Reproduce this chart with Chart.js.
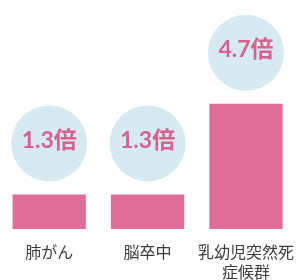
<!DOCTYPE html>
<html>
<head>
<meta charset="utf-8">
<script src="https://cdn.jsdelivr.net/npm/chart.js@4/dist/chart.umd.min.js"></script>
<style>
  html, body { margin: 0; padding: 0; background: #ffffff; }
  #wrap { width: 307px; height: 280px; position: relative; }
</style>
</head>
<body>
<div id="wrap"><canvas id="grafico"></canvas></div>
<script>
// Datos del gráfico
const categorias = [['肺がん'], ['脳卒中'], ['乳幼児突然死', '症候群']];
const valores = [1.3, 1.3, 4.7];
const etiquetas = ['1.3倍', '1.3倍', '4.7倍'];

const COLOR_BARRA = '#de6e98';
const COLOR_CIRCULO = '#d7eaf2';
const COLOR_TEXTO = '#d8628f';

// Plugin para dibujar los círculos con la etiqueta encima de cada barra
const circulosPlugin = {
    id: 'circulos',
    afterDatasetsDraw(chart) {
        const ctx = chart.ctx;
        const meta = chart.getDatasetMeta(0);
        meta.data.forEach((barra, i) => {
            const cx = barra.x;
            const cy = barra.y - 51;
            ctx.save();
            ctx.beginPath();
            ctx.arc(cx, cy, 38, 0, Math.PI * 2);
            ctx.fillStyle = COLOR_CIRCULO;
            ctx.fill();
            ctx.fillStyle = COLOR_TEXTO;
            ctx.font = 'bold 23px Lato, "Noto Sans CJK JP", sans-serif';
            ctx.textAlign = 'center';
            ctx.textBaseline = 'middle';
            ctx.fillText(etiquetas[i], cx, cy - 3);
            ctx.restore();
        });
    }
};

document.addEventListener('DOMContentLoaded', () => {
    const ctx = document.getElementById('grafico');
    new Chart(ctx, {
        type: 'bar',
        data: {
            labels: categorias,
            datasets: [{
                data: valores,
                backgroundColor: COLOR_BARRA,
                borderWidth: 0,
                barPercentage: 0.745,
                categoryPercentage: 1
            }]
        },
        options: {
            responsive: true,
            maintainAspectRatio: false,
            devicePixelRatio: 1,
            animation: false,
            layout: { padding: { left: 0, right: 0, top: 0, bottom: 0 } },
            plugins: {
                legend: { display: false },
                tooltip: { enabled: false }
            },
            scales: {
                x: {
                    grid: { display: false, drawTicks: false },
                    border: { display: false },
                    afterFit: (scale) => { scale.height = 51; },
                    ticks: {
                        color: '#3c3c3c',
                        padding: 13,
                        maxRotation: 0,
                        autoSkip: false,
                        font: { family: '"Noto Sans CJK JP", sans-serif', size: 16, lineHeight: 1.25 }
                    }
                },
                y: {
                    display: false,
                    min: 0,
                    max: 8.6
                }
            }
        },
        plugins: [circulosPlugin]
    });
});
</script>
</body>
</html>
